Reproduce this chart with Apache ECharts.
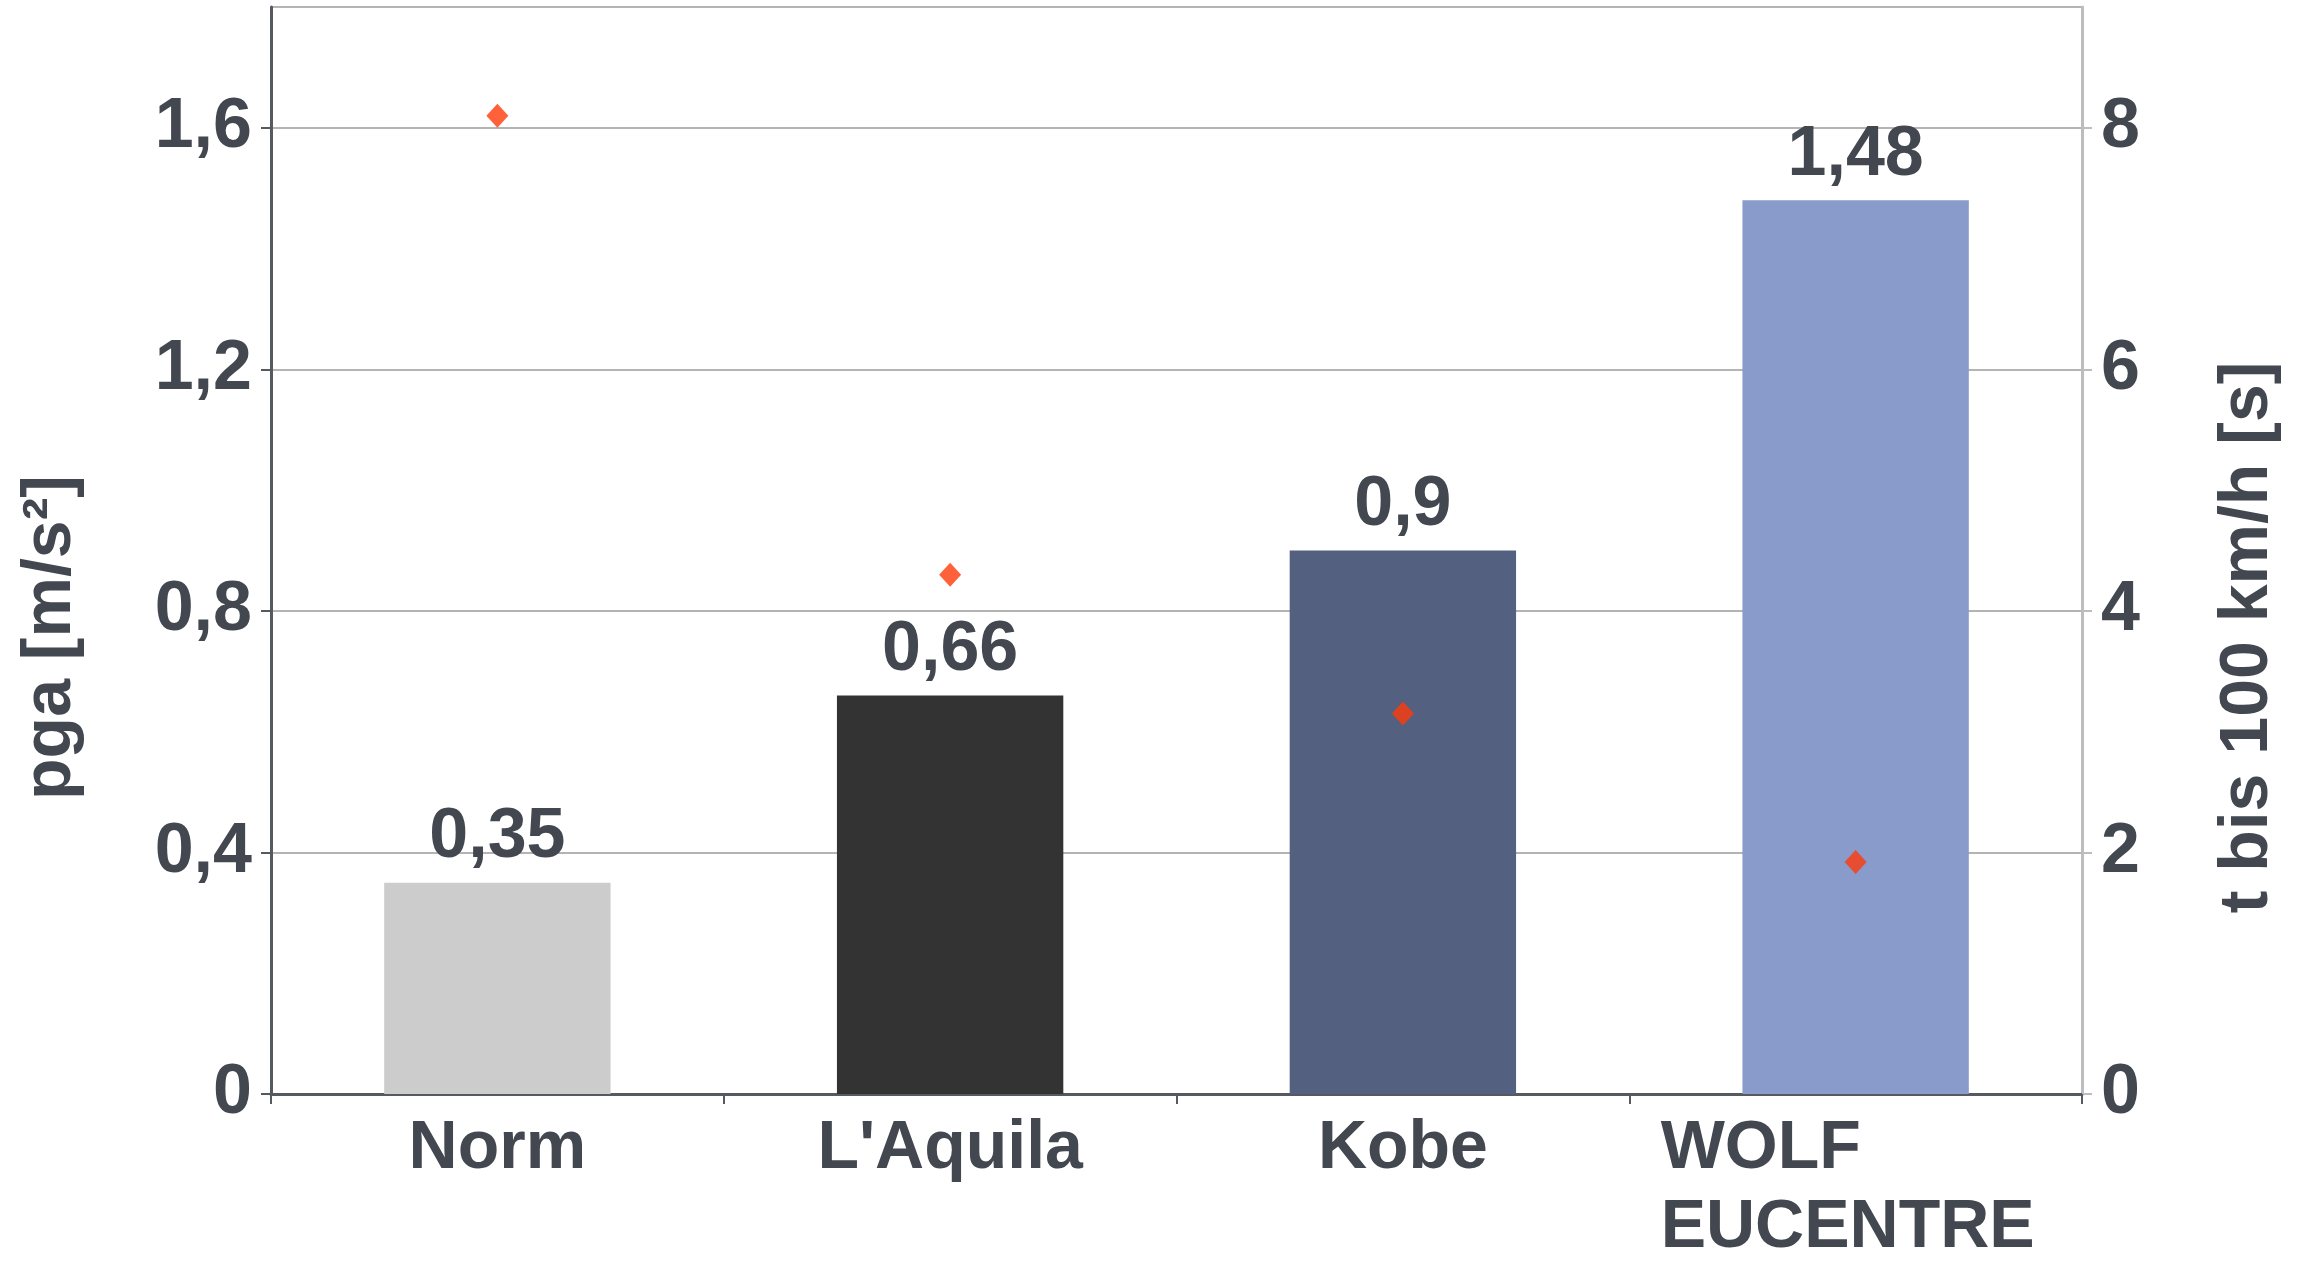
<!DOCTYPE html>
<html>
<head>
<meta charset="utf-8">
<script src="https://cdn.jsdelivr.net/npm/echarts@6/dist/echarts.min.js"></script>
<style>
html,body{margin:0;padding:0;background:#fff;overflow:hidden;width:100%;height:100%;}
#chart{width:100vw;height:100vh;}
</style>
</head>
<body>
<div id="chart"></div>
<script>
const categories = ['Norm', "L'Aquila", 'Kobe', 'WOLF\nEUCENTRE'];
const pgaValues = [0.35, 0.66, 0.9, 1.48];
const timeValues = [8.1, 4.3, 3.15, 1.92];
const barColors = ['#cccccc', '#333333', '#536080', '#889bcb'];
const leftAxisName = 'pga [m/s²]';
const rightAxisName = 't bis 100 km/h [s]';

const FONT = "'Liberation Sans', Arial, sans-serif";
const TXT = '#434850';
const fmtComma = v => String(v).replace('.', ',');

const chart = echarts.init(document.getElementById('chart'));
chart.setOption({
  backgroundColor: '#ffffff',
  animation: false,
  grid: { left: 271, right: 215, top: 7, bottom: 159, containLabel: false },
  xAxis: {
    type: 'category',
    data: categories,
    axisLine: { lineStyle: { color: '#555a60', width: 3 } },
    axisTick: { show: true, length: 10, lineStyle: { color: '#555a60', width: 2 } },
    axisLabel: {
      interval: 0,
      margin: 16,
      color: TXT,
      fontFamily: FONT,
      fontWeight: 'bold',
      fontSize: 68,
      lineHeight: 79,
      formatter: v => v.indexOf('\n') >= 0 ? v.split('\n').map(s => '{l|' + s + '}').join('\n') : v,
      rich: {
        l: { width: 390, align: 'left', color: TXT, fontFamily: FONT, fontWeight: 'bold', fontSize: 68, lineHeight: 79 }
      }
    },
    splitLine: { show: false }
  },
  yAxis: [
    {
      type: 'value',
      min: 0, max: 1.8, interval: 0.4,
      position: 'left',
      name: leftAxisName,
      nameLocation: 'middle',
      nameRotate: 90,
      nameGap: 186,
      nameTextStyle: { color: TXT, fontFamily: FONT, fontWeight: 'bold', fontSize: 68, lineHeight: 68, padding: [0, 174, 0, 0] },
      axisLine: { show: true, lineStyle: { color: '#555a60', width: 3 } },
      axisTick: { show: true, length: 10, lineStyle: { color: '#555a60', width: 2 } },
      axisLabel: { showMaxLabel: false, margin: 19, color: TXT, fontFamily: FONT, fontWeight: 'bold', fontSize: 70, formatter: v => fmtComma(v) },
      splitLine: { show: true, lineStyle: { color: '#b4b4b4', width: 2 } }
    },
    {
      type: 'value',
      min: 0, max: 9, interval: 2,
      position: 'right',
      name: rightAxisName,
      nameLocation: 'middle',
      nameRotate: 90,
      nameGap: 132,
      nameTextStyle: { color: TXT, fontFamily: FONT, fontWeight: 'bold', fontSize: 68, lineHeight: 68, padding: [0, 174, 0, 0] },
      axisLine: { show: true, lineStyle: { color: '#bdbdbd', width: 3 } },
      axisTick: { show: true, length: 10, lineStyle: { color: '#bdbdbd', width: 2 } },
      axisLabel: { showMaxLabel: false, margin: 19, color: TXT, fontFamily: FONT, fontWeight: 'bold', fontSize: 70 },
      splitLine: { show: false }
    }
  ],
  series: [
    {
      type: 'bar',
      yAxisIndex: 0,
      barWidth: '50%',
      data: pgaValues.map((v, i) => ({ value: v, itemStyle: { color: barColors[i] } })),
      label: {
        show: true, position: 'top', distance: 10,
        color: TXT, fontFamily: FONT, fontWeight: 'bold', fontSize: 70, lineHeight: 70,
        formatter: p => fmtComma(p.value)
      },
      z: 2
    },
    {
      type: 'scatter',
      yAxisIndex: 1,
      symbol: 'diamond',
      symbolSize: [22, 24],
      itemStyle: { color: '#ff3a0a' },
      data: timeValues,
      z: 5
    }
  ]
});
</script>
</body>
</html>
